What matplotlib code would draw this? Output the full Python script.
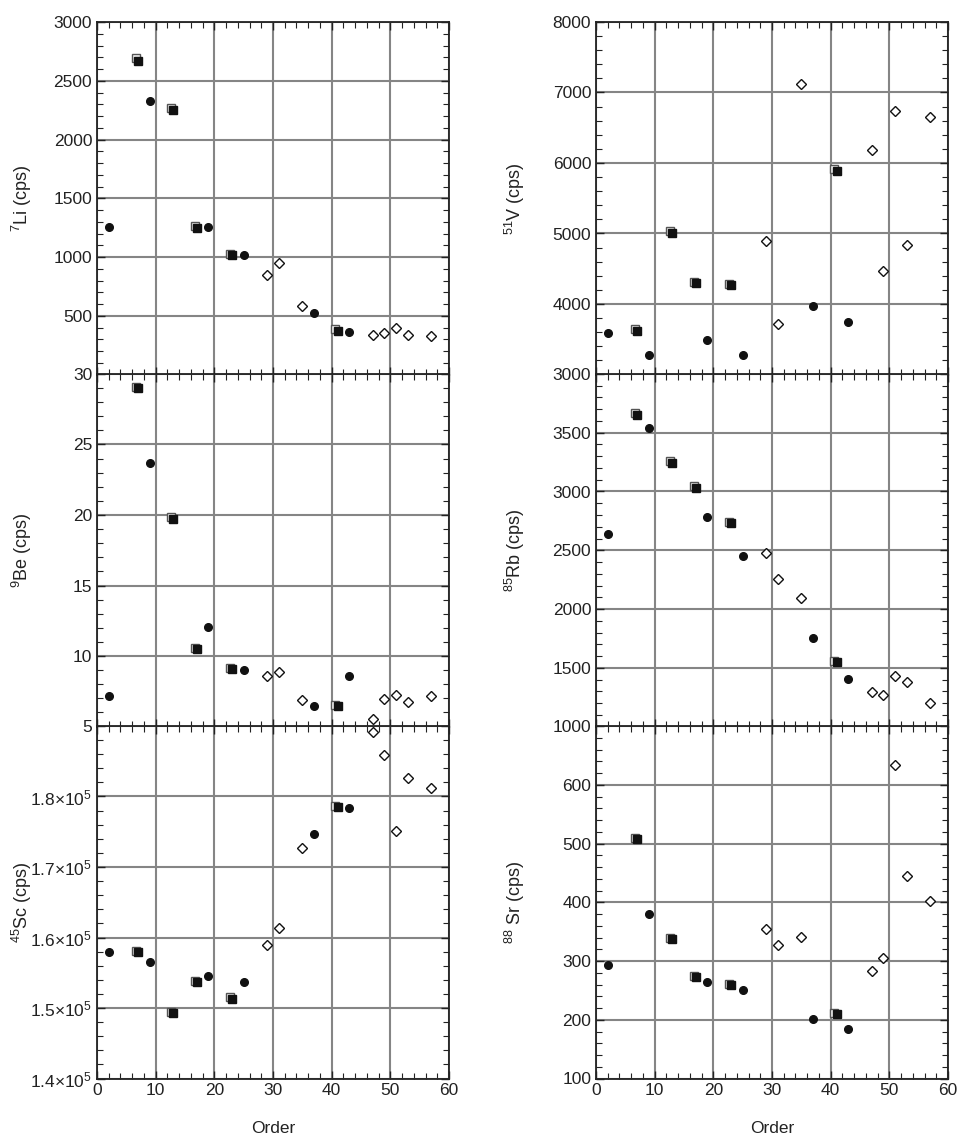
import numpy as np
import matplotlib
matplotlib.use('Agg')
import matplotlib.pyplot as plt
from matplotlib.ticker import MultipleLocator, FuncFormatter

plt.rcParams['font.family'] = ['Liberation Sans', 'DejaVu Sans']
plt.rcParams['mathtext.fontset'] = 'custom'
plt.rcParams['mathtext.rm'] = 'Liberation Sans'
plt.rcParams['mathtext.it'] = 'Liberation Sans:italic'

# sample order (x) for each marker group
order_circ = [2, 9, 19, 25, 37, 43]
order_sq = [7, 13, 17, 23, 41]
order_sq_open = [6.65, 12.65, 16.65, 22.65, 40.65]
order_dia = [29, 31, 35, 47, 49, 51, 53, 57]

# 7Li
li_circ = [1257, 2331, 1257, 1014, 520, 363]
li_sq = [2671, 2251, 1249, 1017, 371]
li_sq_open = [2690, 2265, 1263, 1023, 386]
li_dia = [849, 949, 583, 340, 357, 397, 340, 331]

# 9Be
be_circ = [7.15, 23.7, 12.08, 9.03, 6.44, 8.61]
be_sq = [29.03, 19.74, 10.47, 9.06, 6.44]
be_sq_open = [29.1, 19.88, 10.6, 9.13, 6.53]
be_dia = [8.58, 8.84, 6.91, 5.52, 6.98, 7.26, 6.77, 7.17]

# 45Sc
sc_circ = [1.5792e5, 1.5650e5, 1.5456e5, 1.5371e5, 1.7461e5, 1.7830e5]
sc_sq = [1.5792e5, 1.4931e5, 1.5366e5, 1.5130e5, 1.7853e5]
sc_sq_open = [1.5806e5, 1.4950e5, 1.5390e5, 1.5154e5, 1.7868e5]
sc_dia = [1.5896e5, 1.6128e5, 1.7272e5, 1.8913e5, 1.8591e5, 1.7504e5, 1.8260e5, 1.8118e5]

# 51V
v_circ = [3582, 3274, 3483, 3274, 3974, 3738]
v_sq = [3615, 5006, 4296, 4272, 5890]
v_sq_open = [3643, 5034, 4310, 4287, 5914]
v_dia = [4892, 3714, 7115, 6188, 4462, 6742, 4840, 6647]

# 85Rb
rb_circ = [2637, 3539, 2782, 2447, 1756, 1407]
rb_sq = [3652, 3244, 3034, 2734, 1546]
rb_sq_open = [3666, 3258, 3043, 2742, 1560]
rb_dia = [2476, 2252, 2093, 1294, 1271, 1430, 1376, 1197]

# 88Sr
sr_circ = [293, 379.5, 264.4, 251.4, 200.9, 184.5]
sr_sq = [507.6, 337, 272.3, 258.7, 209.4]
sr_sq_open = [510, 340, 275, 260.4, 212]
sr_dia = [354.5, 326.8, 340.4, 283.7, 305, 633.4, 445, 401.6]


def sci_fmt(v, pos):
    return '%.1f×10$^{5}$' % (v / 1e5)


def plain_fmt(v, pos):
    return '%d' % round(v)


# label, data, ylim, major, minor, hidden tick label, formatter
panels = [
    ('$^{7}$Li (cps)', (li_circ, li_sq, li_sq_open, li_dia), (0, 3000), 500, 100, 0, plain_fmt),
    ('$^{9}$Be (cps)', (be_circ, be_sq, be_sq_open, be_dia), (5, 30), 5, 1, None, plain_fmt),
    ('$^{45}$Sc (cps)', (sc_circ, sc_sq, sc_sq_open, sc_dia), (1.4e5, 1.9e5), 1e4, 2e3, 1.9e5, sci_fmt),
    ('$^{51}$V (cps)', (v_circ, v_sq, v_sq_open, v_dia), (3000, 8000), 1000, 200, None, plain_fmt),
    ('$^{85}$Rb (cps)', (rb_circ, rb_sq, rb_sq_open, rb_dia), (1000, 4000), 500, 100, 4000, plain_fmt),
    ('$^{88}$ Sr (cps)', (sr_circ, sr_sq, sr_sq_open, sr_dia), (100, 700), 100, 20, 700, plain_fmt),
]

fig = plt.figure(figsize=(9.61, 11.43), dpi=100)
W, H = 961, 1143
lefts = [97, 596]
tops = [22, 374, 726]
ph = 352.5
pw = 352

for i, (lab, data, ylim, major, minor, hidden, fmt) in enumerate(panels):
    col = i // 3
    row = i % 3
    ax = fig.add_axes([lefts[col] / W, 1 - (tops[row] + ph) / H, pw / W, ph / H])
    circ, sq, sq_open, dia = data
    ax.plot(order_sq_open, sq_open, 's', ms=6, mfc='#f4f4f4', mec='#555555', mew=1.0, zorder=3)
    ax.plot(order_sq, sq, 's', ms=6, mfc='#111111', mec='#111111', zorder=4)
    ax.plot(order_circ, circ, 'o', ms=5.5, mfc='#111111', mec='#111111', zorder=4)
    ax.plot(order_dia, dia, 'D', ms=5.5, mfc='white', mec='#111111', mew=1.0, zorder=4)

    ax.set_xlim(0, 60)
    ax.set_ylim(*ylim)
    ax.xaxis.set_major_locator(MultipleLocator(10))
    ax.xaxis.set_minor_locator(MultipleLocator(2))
    ax.yaxis.set_major_locator(MultipleLocator(major))
    ax.yaxis.set_minor_locator(MultipleLocator(minor))

    def yf(v, pos, hidden=hidden, fmt=fmt):
        if hidden is not None and abs(v - hidden) < 1e-6 * abs(hidden or 1):
            return ''
        return fmt(v, pos)
    ax.yaxis.set_major_formatter(FuncFormatter(yf))

    ax.grid(True, which='major', color='#858585', lw=1.5)
    ax.set_axisbelow(True)
    ax.tick_params(which='both', direction='in', top=True, right=True, color='#222222')
    ax.tick_params(which='major', length=6, width=1.0, labelsize=12.5, labelcolor='#222222')
    ax.tick_params(which='minor', length=4, width=0.8)
    for s in ax.spines.values():
        s.set_linewidth(1.3)
        s.set_color('#222222')

    ax.set_ylabel(lab, fontsize=13, color='#222222')
    ax.yaxis.set_label_coords(-0.178 if col == 0 else -0.195, 0.5)
    if row == 2:
        ax.set_xlabel('Order', fontsize=12.5, color='#222222', labelpad=16)
    else:
        ax.tick_params(axis='x', labelbottom=False)

fig.savefig('out.png', dpi=100)
